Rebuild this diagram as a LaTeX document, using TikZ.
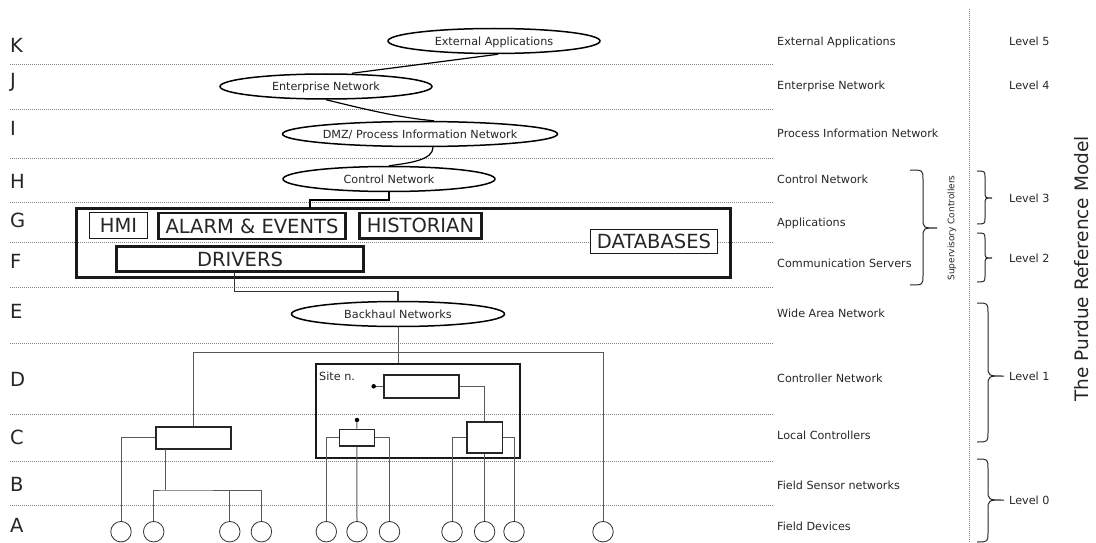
\documentclass[tikz,border=0pt]{standalone}
\usepackage{fontspec}
\setmainfont{DejaVu Sans}
\usetikzlibrary{shapes.geometric,calc}
\newcommand{\pbrace}[7]{% x0 xv xt ytop ymid ybot r
  \draw[bracestyle] (#1,#4) .. controls (#2,#4) .. (#2,#4+#7) -- (#2,#5-#7)
    .. controls (#2,#5) .. (#3,#5) .. controls (#2,#5) .. (#2,#5+#7)
    -- (#2,#6-#7) .. controls (#2,#6) .. (#1,#6);}
\begin{document}
\begin{tikzpicture}[x=1pt,y=-1pt,
  lbl/.style={font=\fontsize{11.2}{13}\selectfont, text=black!85, inner sep=0pt, text height=8.2pt, text depth=0pt, anchor=west},
  rowlbl/.style={font=\fontsize{19.5}{22}\selectfont, text=black!85, inner sep=0pt, text height=14.2pt, text depth=0pt, anchor=west},
  net/.style={ellipse, draw=black, line width=1.5pt, fill=white, inner sep=0pt, font=\fontsize{11.2}{13}\selectfont, text=black!85, text height=8.2pt, text depth=0pt, minimum height=25pt},
  app/.style={draw=black!90, fill=white, inner sep=0pt, font=\fontsize{19.5}{22}\selectfont, text=black!85, text height=14.2pt, text depth=0pt},
  ctrl/.style={draw=black!85, fill=white, inner sep=0pt},
  dev/.style={circle, draw=black!80, line width=0.8pt, fill=white, minimum size=20.5pt, inner sep=0pt},
  wire/.style={draw=black!65, line width=1pt},
  grid/.style={draw=black!50, line width=0.8pt, dash pattern=on 0.9pt off 1.1pt},
  dotpt/.style={circle, fill=black, inner sep=0pt, minimum size=4.5pt},
  bracestyle/.style={draw=black!85, line width=1pt},
]
\useasboundingbox (0,0) rectangle (1096,543);

% grid lines
\foreach \yy in {64.5,109,158.5,202,242,287,343,414,461.5,505}
  \draw[grid] (10,\yy) -- (773,\yy);
\draw[grid] (969,9) -- (969,543);

% row letters
\node[rowlbl] (rK) at (10,45) {K};
\node[rowlbl] (rJ) at (10,80) {J};
\node[rowlbl] (rI) at (10,128) {I};
\node[rowlbl] (rH) at (10,181) {H};
\node[rowlbl] (rG) at (10,220) {G};
\node[rowlbl] (rF) at (10,261) {F};
\node[rowlbl] (rE) at (10,311) {E};
\node[rowlbl] (rD) at (10,379) {D};
\node[rowlbl] (rC) at (10,437) {C};
\node[rowlbl] (rB) at (10,484) {B};
\node[rowlbl] (rA) at (10,525) {A};

% right labels
\node[lbl] (lK) at (777,41) {External Applications};
\node[lbl] (lJ) at (777,85) {Enterprise Network};
\node[lbl] (lI) at (777,133) {Process Information Network};
\node[lbl] (lH) at (777,179) {Control Network};
\node[lbl] (lG) at (777,222) {Applications};
\node[lbl] (lF) at (777,263) {Communication Servers};
\node[lbl] (lE) at (777,313) {Wide Area Network};
\node[lbl] (lD) at (777,378) {Controller Network};
\node[lbl] (lC) at (777,435) {Local Controllers};
\node[lbl] (lB) at (777,485) {Field Sensor networks};
\node[lbl] (lA) at (777,526) {Field Devices};

\node[lbl] (v5) at (1009,41) {Level 5};
\node[lbl] (v4) at (1009,85) {Level 4};
\node[lbl] (v3) at (1009,198) {Level 3};
\node[lbl] (v2) at (1009,258) {Level 2};
\node[lbl] (v1) at (1009,376) {Level 1};
\node[lbl] (v0) at (1009,500) {Level 0};

\node[rotate=90, font=\fontsize{9}{11}\selectfont, text=black!85, inner sep=0pt] (sup) at (952,228) {Supervisory Controllers};
\node[rotate=90, font=\fontsize{18.5}{22}\selectfont, text=black!85, inner sep=0pt] (title) at (1082,269) {The Purdue Reference Model};

% braces
\pbrace{910}{923}{937}{170}{228}{285}{10}
\pbrace{977}{985}{992}{171}{198}{224}{7}
\pbrace{977}{985}{992}{233}{258}{282}{7}
\pbrace{977}{988}{1004}{303}{376}{442}{10}
\pbrace{977}{988}{1004}{459}{500}{542}{10}

% networks
\node[net, minimum width=212pt] (ext) at (494,41) {External Applications};
\node[net, minimum width=212pt] (ent) at (326,86.5) {Enterprise Network};
\node[net, minimum width=272pt] (dmz) at (420,134) {DMZ/ Process Information Network};
\node[net, minimum width=212pt] (ctl) at (389,179) {Control Network};
\node[net, minimum width=213pt] (bh) at (398,314) {Backhaul Networks};

\draw[line width=1.2pt] ([xshift=4pt]ext.south) -- ([xshift=26pt]ent.north);
\draw[line width=1.2pt] (ent.south) .. controls (360,108) and (400,118) .. ([xshift=14pt]dmz.north);
\draw[line width=1.2pt] ([xshift=13pt]dmz.south) .. controls (433,160) and (410,163) .. (ctl.north);

% applications box
\node[draw=black!90, line width=2.5pt, minimum width=654pt, minimum height=69.4pt, inner sep=0pt] (apps) at (403.5,243) {};
\node[app, line width=1.3pt, minimum width=58pt, minimum height=25.6pt] (hmi) at (118.5,225.5) {HMI};
\node[app, line width=2.5pt, minimum width=187pt, minimum height=26pt] (alarm) at (252,226) {ALARM \& EVENTS};
\node[app, line width=2.2pt, minimum width=122pt, minimum height=25.5pt] (hist) at (420.5,225.8) {HISTORIAN};
\node[app, line width=3pt, minimum width=246.4pt, minimum height=25pt] (drv) at (240,259) {DRIVERS};
\node[app, line width=1pt, minimum width=126.6pt, minimum height=24pt] (db) at (654,241) {DATABASES};

\coordinate (cj) at (350,200);
\coordinate (appin) at (310,208.3);
\draw[line width=2pt] (ctl.south) |- (cj) -| (appin);

\coordinate (dj) at (300,291.7);
\draw[draw=black!80, line width=1.1pt] ([xshift=-5.6pt]drv.south) |- (dj) -| (bh.north);

% field devices
\foreach \nm/\xx in {d1/121, d2/153.7, d3/229.8, d4/261.4, d5/326.3, d6/357, d7/389.5, d8/452, d9/484.6, d10/514, d11/603}
  \node[dev] (\nm) at (\xx,531.7) {};

% site
\node[draw=black!90, line width=2pt, minimum width=204.2pt, minimum height=93.7pt, inner sep=0pt] (site) at (417.9,410.85) {};
\node[lbl] (sitelbl) at (319,376) {Site n.};
\node[ctrl, line width=1.8pt, minimum width=74.4pt, minimum height=22.7pt] (uc) at (421.4,386.3) {};
\node[ctrl, line width=1.3pt, minimum width=35pt, minimum height=16.7pt] (mc) at (356.9,437.7) {};
\node[ctrl, line width=1.8pt, minimum width=35.8pt, minimum height=31.6pt] (rc) at (484.6,437.5) {};
\node[ctrl, line width=2pt, minimum width=75pt, minimum height=22.3pt] (lc) at (193.5,437.8) {};
\node[dotpt] (ud) at (373.7,386.3) {};
\node[dotpt] (md) at (357,420) {};

\coordinate (hr) at (603,352.7);
\draw[wire] (bh.south) -- (site.north -| bh.south);
\draw[wire] (lc.north) |- (hr) -- (d11.north);
\draw[wire] (lc.west) -| (d1.north);
\coordinate (lcb) at (165,449);
\coordinate (bus) at (165,490);
\draw[wire] (lcb) -- (bus);
\draw[wire] (d2.north) |- (bus) -| (d4.north);
\draw[wire] (d3.north) -- (d3.north |- bus);

\draw[wire] (ud) -- (uc.west);
\draw[wire] (uc.east) -| (rc.north);
\draw[wire] (md) -- (mc.north);
\draw[wire] (mc.west) -| (d5.north);
\draw[wire] (mc.east) -| (d7.north);
\draw[wire] (mc.south) -- (d6.north);
\draw[wire] (rc.west) -| (d8.north);
\draw[wire] (rc.east) -| (d10.north);
\draw[wire] (rc.south) -- (d9.north);
\end{tikzpicture}
\end{document}
